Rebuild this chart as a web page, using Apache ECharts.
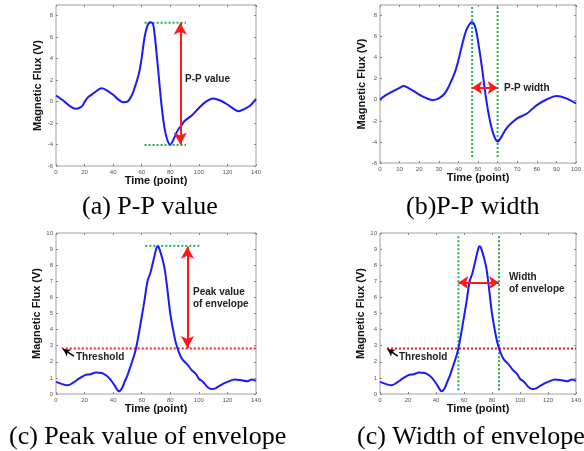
<!DOCTYPE html>
<html>
<head>
<meta charset="utf-8">
<script src="https://cdn.jsdelivr.net/npm/echarts@6/dist/echarts.min.js"></script>
<style>html,body{margin:0;padding:0;background:#fff}#c{width:584px;height:451px}</style>
</head>
<body>
<div id="c"></div>
<script>
// ---- data ----
var signalA = [[0,0.57],[5,0.1],[10,-0.45],[14,-0.67],[18,-0.45],[20,-0.05],[22,0.35],[25,0.65],[30,1.15],[32,1.25],[35,1.1],[40,0.63],[44,0.16],[47,-0.05],[50,0.0],[53,0.57],[55,1.28],[58,2.6],[60,4.1],[62,6.0],[64,7.07],[66,7.4],[67,7.35],[68,7.2],[69,6.3],[70,5.05],[72,2.27],[74,-0.5],[76,-2.5],[78,-3.6],[80,-4.0],[82,-3.6],[84,-3.0],[86,-2.5],[88,-2.2],[90,-1.8],[95,-1.3],[100,-0.6],[105,0.0],[110,0.3],[115,0.1],[120,-0.27],[125,-0.73],[128,-0.9],[132,-0.67],[136,-0.37],[140,0.25]];
var signalB = [[0,0.03],[3,0.45],[6,0.75],[10,1.13],[12,1.3],[15,1.07],[20,0.5],[24,0.13],[27,-0.03],[30,0.13],[33,0.6],[35,1.23],[38,2.5],[40,3.75],[42,5.3],[44,6.6],[46,7.27],[47,7.36],[48,7.2],[49,6.6],[50,5.6],[52,3.1],[54,0.28],[56,-1.9],[58,-3.33],[60,-3.96],[62,-3.5],[64,-2.86],[66,-2.4],[70,-1.76],[75,-1.3],[80,-0.5],[85,0.03],[90,0.35],[95,0.13],[100,-0.35]];
var envelope = [[0,0.75],[5,0.6],[8,0.54],[12,0.7],[16,0.95],[20,1.16],[24,1.23],[28,1.33],[32,1.31],[35,1.16],[38,0.91],[41,0.54],[44,0.17],[46,0.33],[48,0.75],[50,1.16],[52,1.68],[54,2.2],[56,2.83],[58,3.76],[60,4.8],[62,5.84],[64,6.99],[66,7.5],[68,8.23],[70,8.96],[71,9.17],[72,9.1],[74,8.54],[76,7.8],[78,6.47],[80,5.0],[82,3.97],[84,3.14],[86,2.6],[88,2.2],[90,2.0],[92,1.83],[95,1.48],[98,1.23],[100,0.95],[103,0.75],[106,0.44],[109,0.31],[112,0.37],[115,0.54],[120,0.75],[125,0.9],[130,0.85],[134,0.79],[137,0.9],[140,0.81]];

var ppTopA = [[62,7.35],[91,7.35]];
var ppBotA = [[62,-4.05],[91,-4.05]];
var ppArrowA = [[87,7.35],[87,-4.0]];

var peakLineB = [[47,8.8],[47,-5.6]];
var troughLineB = [[60,8.8],[60,-5.6]];
var widthArrowB = [[47,1.15],[60,1.15]];

var peakTopC = [[62.5,9.2],[101,9.2]];
var peakArrowC = [[92,9.15],[92,2.85]];
var thresholdC = [[4,2.83],[140,2.83]];
var thrPointerC = [[12.6,2.35],[5,2.78]];

var leftLineD = [[56,9.8],[56,0.2]];
var rightLineD = [[85,9.8],[85,0.2]];
var widthArrowD = [[56,6.92],[85,6.92]];
var thresholdD = [[5,2.83],[140,2.83]];
var thrPointerD = [[12.7,2.35],[5.4,2.78]];

var xTicksWide = {min:0, max:140, interval:20};
var xTicksNarrow = {min:0, max:100, interval:10};
var yFlux = {min:-6, max:9, interval:2};
var yEnv = {min:0, max:10, interval:1};

var captions = ['(a) P-P value', '(b)P-P width', '(c) Peak value of envelope', '(c) Width of envelope'];
var xName = 'Time (point)';
var yName = 'Magnetic Flux (V)';

// ---- chart ----
var chart = echarts.init(document.getElementById('c'), null, {renderer:'canvas'});
var grids = [
  {left:56, top:5, width:200, height:161},
  {left:380, top:5, width:199, height:158},
  {left:56, top:233, width:200, height:161},
  {left:380, top:233, width:199, height:161}
];
grids.forEach(function(g){ g.show = true; g.borderColor = '#a0a0a0'; g.borderWidth = 1; g.backgroundColor = '#fff'; });

var xRanges = [xTicksWide, xTicksNarrow, xTicksWide, xTicksWide];
var yRanges = [yFlux, yFlux, yEnv, yEnv];
var nameFont = {fontFamily:'Liberation Sans', fontWeight:'bold', fontSize:11, color:'#111'};
var tickStyle = {inside:true, length:2, lineStyle:{color:'#888'}};
var xAxes = [], yAxes = [];
for (var i = 0; i < 4; i++) {
  xAxes.push({type:'value', gridIndex:i, position:'bottom', min:xRanges[i].min, max:xRanges[i].max, interval:xRanges[i].interval,
    name:xName, nameLocation:'middle', nameGap:i<2?8:9, nameTextStyle:nameFont,
    axisLine:{show:false, onZero:false}, splitLine:{show:false}, axisTick:tickStyle,
    axisLabel:{fontSize:6, color:'#555', margin:3, fontFamily:'Liberation Sans'}});
  xAxes.push({type:'value', gridIndex:i, position:'top', min:xRanges[i].min, max:xRanges[i].max, interval:xRanges[i].interval,
    axisLine:{show:false, onZero:false}, splitLine:{show:false}, axisLabel:{show:false}, axisTick:tickStyle});
  yAxes.push({type:'value', gridIndex:i, position:'left', min:yRanges[i].min, max:yRanges[i].max, interval:yRanges[i].interval,
    name:yName, nameLocation:'middle', nameGap:10, nameTextStyle:nameFont,
    axisLine:{show:false, onZero:false}, splitLine:{show:false}, axisTick:tickStyle,
    axisLabel:{fontSize:6, color:'#555', margin:3, fontFamily:'Liberation Sans', showMaxLabel: i<2 ? false : true}});
  yAxes.push({type:'value', gridIndex:i, position:'right', min:yRanges[i].min, max:yRanges[i].max, interval:yRanges[i].interval,
    axisLine:{show:false, onZero:false}, splitLine:{show:false}, axisLabel:{show:false}, axisTick:tickStyle});
}

function curve(idx, data) {
  return {type:'line', xAxisIndex:idx*2, yAxisIndex:idx*2, data:data, showSymbol:false, smooth:0.35,
    lineStyle:{color:'#1a1aff', width:2}, silent:true, z:3};
}
function dotted(idx, data, color) {
  return {type:'line', xAxisIndex:idx*2, yAxisIndex:idx*2, data:data, showSymbol:false,
    lineStyle:{color:color, width:2, type:[2,2]}, silent:true, z:2};
}
function arrow(idx, pts, color, both, width, size) {
  return {type:'line', xAxisIndex:idx*2, yAxisIndex:idx*2, data:[], silent:true, z:4,
    markLine:{silent:true, animation:false, symbol: both ? ['arrow','arrow'] : ['none','arrow'], symbolSize:size,
      label:{show:false}, lineStyle:{color:color, width:width, type:'solid'},
      data:[[{coord:pts[0]},{coord:pts[1]}]]}};
}
var GREEN = '#22b14c', RED = '#ff1a1a';
var series = [
  curve(0, signalA), dotted(0, ppTopA, GREEN), dotted(0, ppBotA, GREEN), arrow(0, ppArrowA, RED, true, 2, [10,12]),
  curve(1, signalB), dotted(1, peakLineB, GREEN), dotted(1, troughLineB, GREEN), arrow(1, widthArrowB, RED, true, 2, [10,10]),
  dotted(2, thresholdC, RED), curve(2, envelope), dotted(2, peakTopC, GREEN), arrow(2, peakArrowC, RED, true, 2, [10,12]), arrow(2, thrPointerC, '#000', false, 1.5, [6,7]),
  dotted(3, thresholdD, RED), curve(3, envelope), dotted(3, leftLineD, GREEN), dotted(3, rightLineD, GREEN), arrow(3, widthArrowD, RED, true, 2, [10,10]), arrow(3, thrPointerD, '#000', false, 1.5, [6,7])
];

var annFont = 'bold 10px "Liberation Sans"';
function ann(x, y, text, lh) {
  return {type:'text', left:x, top:y, z:100, style:{text:text, font:annFont, fill:'#222', lineHeight:lh||12}};
}
var capFont = '26px "Liberation Serif"';
function cap(x, y, text) {
  return {type:'text', left:x, top:y, z:100, style:{text:text, font:capFont, fill:'#000'}};
}
var graphics = [
  ann(185, 73, 'P-P value'),
  ann(504, 82, 'P-P width'),
  ann(193, 286, 'Peak value\nof envelope'),
  ann(509, 271, 'Width\nof envelope'),
  ann(76, 351, 'Threshold'),
  ann(399, 351, 'Threshold'),
  cap(82, 194, captions[0]),
  cap(406, 194, captions[1]),
  cap(9, 424, captions[2]),
  cap(357, 424, captions[3])
];

chart.setOption({
  animation:false,
  backgroundColor:'#fff',
  grid:grids, xAxis:xAxes, yAxis:yAxes, series:series, graphic:graphics
});
</script>
</body>
</html>
